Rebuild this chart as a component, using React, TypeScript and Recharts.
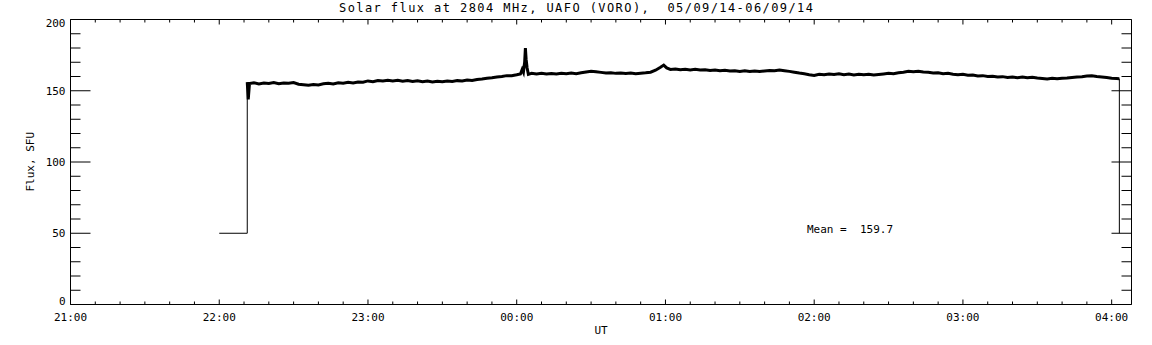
import { LineChart, Line, XAxis, YAxis } from 'recharts';

const hourLabels = ['21:00', '22:00', '23:00', '00:00', '01:00', '02:00', '03:00', '04:00'];
const yLabels = [0, 50, 100, 150, 200];

// minutes after 21:00 UT
const minutes = [
  71.3, 71.7, 72.2, 74, 76, 78, 80, 82, 84, 86, 88, 90, 92, 94, 96, 98,
  100, 102, 104, 106, 108, 110, 112, 114, 116, 118,
  120, 122, 124, 126, 128, 130, 132, 134, 136, 138,
  140, 142, 144, 146, 148, 150, 152, 154, 156, 158,
  160, 162, 164, 166, 168, 170, 172, 174, 176, 178,
  180,
  181.5, 182.2, 182.7, 183.2, 183.5, 183.8, 184.2, 184.7,
  186, 188, 190, 192, 194, 196, 198, 200, 202, 204,
  206, 208, 210, 212, 214, 216, 218, 220, 222, 224,
  226, 228, 230, 232, 234, 236, 238,
  239.3, 240.5,
  242, 244, 246, 248, 250, 252, 254, 256, 258, 260,
  262, 264, 266, 268, 270, 272, 274, 276, 278, 280,
  282, 284, 286, 288, 290, 292, 294, 296, 298, 300,
  302, 304, 306, 308, 310, 312, 314, 316, 318, 320,
  322, 324, 326, 328, 330, 332, 334, 336, 338, 340,
  342, 344, 346, 348, 350, 352, 354, 356, 358, 360,
  362, 364, 366, 368, 370, 372, 374, 376, 378, 380,
  382, 384, 386, 388, 390, 392, 394, 396, 398, 400,
  402, 404, 406, 408, 410, 412, 414, 416, 418, 420,
  422, 423.1,
];

const flux = [
  156, 144, 155, 155.6, 154.8, 155.4, 155.1, 155.7, 154.9, 155.5, 155.2, 155.8, 154.6, 154.2, 153.8, 154.4,
  154.1, 154.9, 155.3, 154.8, 155.6, 155.2, 155.9, 155.4, 156.2, 156.0,
  156.9, 156.4, 157.2, 156.8, 157.4, 156.9, 157.3, 156.7, 157.1, 156.5,
  157.0, 156.4, 156.9, 156.2, 156.7, 156.3, 156.9, 156.5, 157.1, 156.8,
  157.5, 157.2, 157.9, 158.3, 158.8, 159.2, 159.7, 160.0, 160.6, 160.5,
  161.2,
  161.8, 165, 163, 170, 180, 172, 166, 161.5,
  162.3, 161.8, 162.2, 161.7, 162.1, 161.8, 162.2, 161.9, 162.4, 162.0,
  162.6, 163.2, 163.7, 163.4, 162.9, 162.4, 162.7, 162.2, 162.5, 162.1,
  162.4, 162.0, 162.3, 162.6, 163.0, 164.4, 166.5,
  168, 166,
  165, 165.3, 164.7, 165.0, 164.6, 165.1, 164.5, 164.8, 164.2, 164.6,
  164.0, 164.4, 163.8, 164.1, 163.6, 164.0, 163.5, 163.9, 163.5, 163.9,
  164.2, 164.0, 164.5, 164.1, 163.6, 163.0, 162.4, 161.9, 161.3, 160.8,
  161.6, 161.2, 161.8, 161.4, 161.9, 161.3, 161.7, 161.1, 161.6, 161.2,
  161.5, 161.0, 161.4, 161.8, 162.2, 162.0, 162.6, 163.0, 163.6, 163.4,
  163.7, 163.1, 162.9, 162.4, 162.6, 162.0, 162.2, 161.6, 161.2, 161.5,
  160.9, 161.1, 160.4, 160.6, 160.0, 160.2, 159.6, 159.9, 159.3, 159.7,
  159.2, 159.6, 159.1, 159.5, 159.0, 158.6, 158.2, 158.7, 158.4, 158.8,
  158.9, 159.3, 159.6, 159.9, 160.3, 160.5, 160.0, 159.7, 159.3, 158.8,
  158.6, 158.5,
];

// receiver switch-on and switch-off steps
const startMinutes = [60, 71.3, 71.3];
const startFlux = [50, 50, 156];
const endMinutes = [423.1, 423.1];
const endFlux = [158.5, 50];

const mainData = minutes.map((m, i) => ({ m, v: flux[i] }));
const startData = startMinutes.map((m, i) => ({ m, v: startFlux[i] }));
const endData = endMinutes.map((m, i) => ({ m, v: endFlux[i] }));

const xTicks = Array.from({ length: 43 }, (_, i) => i * 10);
const yTicks = Array.from({ length: 21 }, (_, i) => i * 10);

const FONT = '"DejaVu Sans Mono", monospace';

const BottomTick = ({ x, y, payload }: any) => {
  const major = payload.value % 60 === 0;
  return (
    <g>
      <line x1={x} x2={x} y1={y} y2={y - (major ? 5 : 3)} stroke="#000" />
      {major && (
        <text x={x} y={y + 16} textAnchor="middle" fontFamily={FONT} fontSize={11} fill="#000">
          {hourLabels[payload.value / 60]}
        </text>
      )}
    </g>
  );
};

const TopTick = ({ x, y, payload }: any) => {
  const major = payload.value % 60 === 0;
  return <line x1={x} x2={x} y1={y} y2={y + (major ? 5 : 3)} stroke="#000" />;
};

const LeftTick = ({ x, y, payload }: any) => {
  const major = yLabels.includes(payload.value);
  const dy = payload.value === 0 ? 0 : payload.value === 200 ? 7.5 : 4;
  return (
    <g>
      <line x1={x} x2={x + (major ? 20 : 10)} y1={y} y2={y} stroke="#000" />
      {major && (
        <text x={x - 5} y={y + dy} textAnchor="end" fontFamily={FONT} fontSize={11} fill="#000">
          {payload.value}
        </text>
      )}
    </g>
  );
};

const RightTick = ({ x, y, payload }: any) => {
  const major = yLabels.includes(payload.value);
  return <line x1={x} x2={x - (major ? 20 : 10)} y1={y} y2={y} stroke="#000" />;
};

export default function App() {
  return (
    <div style={{ position: 'absolute', left: 0, top: 0, width: 1152, height: 345, background: '#fff' }}>
      <LineChart
        width={1152}
        height={345}
        margin={{ top: 9.5, right: 10.5, bottom: 10.5, left: 10.5 }}
      >
        <XAxis
          dataKey="m"
          type="number"
          domain={[0, 428]}
          ticks={xTicks}
          interval={0}
          allowDataOverflow
          height={30}
          tickSize={0}
          tickMargin={0}
          tickLine={false}
          axisLine={{ stroke: '#000' }}
          tick={<BottomTick />}
        />
        <XAxis
          xAxisId="top"
          orientation="top"
          dataKey="m"
          type="number"
          domain={[0, 428]}
          ticks={xTicks}
          interval={0}
          allowDataOverflow
          height={10}
          tickSize={0}
          tickMargin={0}
          tickLine={false}
          axisLine={{ stroke: '#000' }}
          tick={<TopTick />}
        />
        <YAxis
          type="number"
          domain={[0, 200]}
          ticks={yTicks}
          interval={0}
          allowDataOverflow
          width={60}
          tickSize={0}
          tickMargin={0}
          tickLine={false}
          axisLine={{ stroke: '#000' }}
          tick={<LeftTick />}
        />
        <YAxis
          yAxisId="right"
          orientation="right"
          type="number"
          domain={[0, 200]}
          ticks={yTicks}
          interval={0}
          allowDataOverflow
          width={10}
          tickSize={0}
          tickMargin={0}
          tickLine={false}
          axisLine={{ stroke: '#000' }}
          tick={<RightTick />}
        />
        <Line data={startData} dataKey="v" type="linear" stroke="#000" strokeWidth={1} dot={false} isAnimationActive={false} />
        <Line data={mainData} dataKey="v" type="linear" stroke="#000" strokeWidth={3} dot={false} isAnimationActive={false} />
        <Line data={endData} dataKey="v" type="linear" stroke="#000" strokeWidth={1} dot={false} isAnimationActive={false} />
      </LineChart>
      <svg
        width={1152}
        height={345}
        style={{ position: 'absolute', left: 0, top: 0, pointerEvents: 'none' }}
      >
        <text x={339} y={12} fontFamily={FONT} fontSize={12} fill="#000" textLength={474} lengthAdjust="spacing" style={{ whiteSpace: 'pre' }}>
          {'Solar flux at 2804 MHz, UAFO (VORO),  05/09/14-06/09/14'}
        </text>
        <text x={807} y={233} fontFamily={FONT} fontSize={11} fill="#000" style={{ whiteSpace: 'pre' }}>
          {'Mean =  159.7'}
        </text>
        <text x={601} y={334} textAnchor="middle" fontFamily={FONT} fontSize={11} fill="#000">
          UT
        </text>
        <text
          x={34.5}
          y={161.7}
          textAnchor="middle"
          fontFamily={FONT}
          fontSize={11}
          fill="#000"
          transform="rotate(-90 34.5 161.7)"
        >
          Flux, SFU
        </text>
      </svg>
    </div>
  );
}
